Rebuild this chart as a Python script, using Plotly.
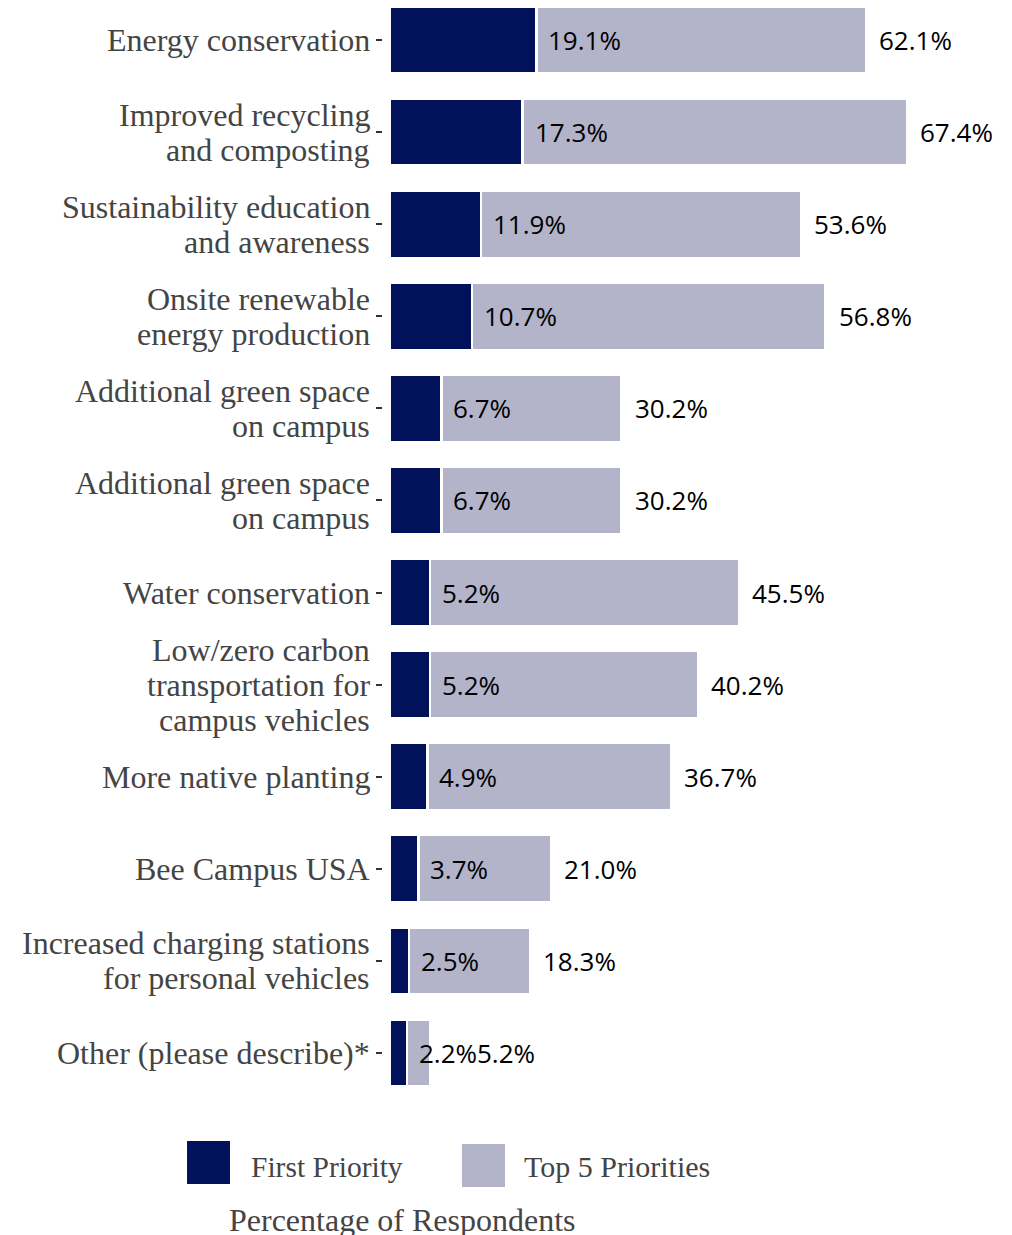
import plotly.graph_objects as go

# Survey results: share of respondents naming each item as first priority / in top 5
categories = [
    "Energy conservation",
    "Improved recycling<br>and composting",
    "Sustainability education<br>and awareness",
    "Onsite renewable<br>energy production",
    "Additional green space<br>on campus",
    "Additional green space<br>on campus",
    "Water conservation",
    "Low/zero carbon<br>transportation for<br>campus vehicles",
    "More native planting",
    "Bee Campus USA",
    "Increased charging stations<br>for personal vehicles",
    "Other (please describe)*",
]
first_priority = [19.1, 17.3, 11.9, 10.7, 6.7, 6.7, 5.2, 5.2, 4.9, 3.7, 2.5, 2.2]
top5_priorities = [62.1, 67.4, 53.6, 56.8, 30.2, 30.2, 45.5, 40.2, 36.7, 21.0, 18.3, 5.2]
series_names = ["First Priority", "Top 5 Priorities"]
axis_title = "Percentage of Respondents"

DARK = "#02125a"
LIGHT = "#b3b3c9"
SERIF = "Liberation Serif, Times New Roman, serif"
SANS = "Open Sans, Noto Sans, sans-serif"
LABEL_GREY = "#444444"

WIDTH, HEIGHT = 1012, 1235
MARGIN = dict(l=383, r=10, t=0, b=135)
X_RANGE = [-0.9, 79.8]
VALUE_SIZE = 26
CAT_SIZE = 32
CAT_LINE_STEP = 35   # px between lines of a wrapped category label
VALUE_SHIFT = 10     # px between a bar end and its value label

rows = list(range(len(categories)))
remainder = [round(t - f, 1) for t, f in zip(top5_priorities, first_priority)]

plot_w = WIDTH - MARGIN["l"] - MARGIN["r"]
px_per_unit = plot_w / (X_RANGE[1] - X_RANGE[0])

# approximate Open Sans advance widths (em) used to keep value labels apart
_ADV = {".": 0.264, "%": 0.838}


def text_px(s, size):
    return sum(_ADV.get(ch, 0.572) for ch in s) * size


fig = go.Figure()
fig.add_trace(go.Bar(
    y=rows, x=first_priority, orientation="h", name=series_names[0],
    marker=dict(color=DARK, line=dict(color="white", width=2.5)),
    showlegend=False,
))
fig.add_trace(go.Bar(
    y=rows, x=remainder, orientation="h", name=series_names[1],
    marker=dict(color=LIGHT, line=dict(color="white", width=2.5)),
    showlegend=False,
))

annotations = []
for r, f, t in zip(rows, first_priority, top5_priorities):
    f_txt, t_txt = f"{f:.1f}%", f"{t:.1f}%"
    annotations.append(dict(
        x=f, y=r, xref="x", yref="y", text=f_txt, showarrow=False,
        xanchor="left", yanchor="middle", xshift=VALUE_SHIFT,
        font=dict(family=SANS, size=VALUE_SIZE, color="black"),
    ))
    # push the top-5 label past the first-priority label when the bar is short
    gap_px = (t - f) * px_per_unit
    shift = max(VALUE_SHIFT + 1, VALUE_SHIFT + text_px(f_txt, VALUE_SIZE) - gap_px)
    annotations.append(dict(
        x=t, y=r, xref="x", yref="y", text=t_txt, showarrow=False,
        xanchor="left", yanchor="middle", xshift=shift,
        font=dict(family=SANS, size=VALUE_SIZE, color="black"),
    ))

# Category labels, one text per line so the wrapped lines sit close together
for r, cat in zip(rows, categories):
    lines = cat.split("<br>")
    n = len(lines)
    for i, line in enumerate(lines):
        annotations.append(dict(
            x=0, y=r, xref="paper", yref="y", text=line, showarrow=False,
            xanchor="right", yanchor="middle", xshift=-11,
            yshift=((n - 1) / 2 - i) * CAT_LINE_STEP,
            font=dict(family=SERIF, size=CAT_SIZE, color=LABEL_GREY),
        ))

# Legend drawn as large swatches below the plot
shapes = [
    dict(type="rect", xref="paper", yref="paper", x0=-0.3166, x1=-0.2472,
         y0=-0.0764, y1=-0.0373, fillcolor=DARK, line=dict(width=0)),
    dict(type="rect", xref="paper", yref="paper", x0=0.1276, x1=0.1971,
         y0=-0.0791, y1=-0.0400, fillcolor=LIGHT, line=dict(width=0)),
]
annotations += [
    dict(x=-0.2165, y=-0.0609, xref="paper", yref="paper", text=series_names[0],
         showarrow=False, xanchor="left", yanchor="middle",
         font=dict(family=SERIF, size=29.5, color=LABEL_GREY)),
    dict(x=0.2246, y=-0.0609, xref="paper", yref="paper", text=series_names[1],
         showarrow=False, xanchor="left", yanchor="middle",
         font=dict(family=SERIF, size=30, color=LABEL_GREY)),
    dict(x=0.032, y=-0.0905, xref="paper", yref="paper", text=axis_title,
         showarrow=False, xanchor="center", yanchor="top",
         font=dict(family=SERIF, size=32, color=LABEL_GREY)),
]

fig.update_layout(
    width=WIDTH, height=HEIGHT,
    margin=MARGIN,
    barmode="stack", bargap=0.27,
    plot_bgcolor="white", paper_bgcolor="white",
    annotations=annotations, shapes=shapes,
    showlegend=False,
)
fig.update_xaxes(range=X_RANGE, showticklabels=False, showgrid=False,
                 zeroline=False, showline=False, ticks="")
fig.update_yaxes(range=[11.51, -0.434], tickvals=rows, showticklabels=False,
                 ticks="outside", ticklen=6, tickwidth=2, tickcolor="#333333",
                 showgrid=False, zeroline=False, showline=False)

fig.write_html("out.html")
